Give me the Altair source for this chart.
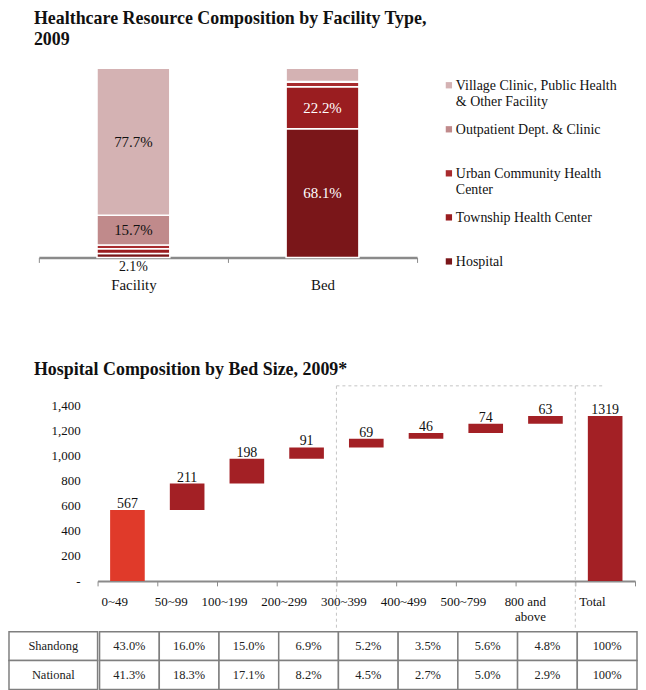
import altair as alt
import pandas as pd

FONT = "Liberation Serif"
TXT = "#111111"
GRID = "#8a8a8a"

# ---------------- top chart data ----------------
resource_cats = ["Facility", "Bed"]
facility_types = [
    "Hospital",
    "Township Health Center",
    "Urban Community Health Center",
    "Outpatient Dept. & Clinic",
    "Village Clinic, Public Health & Other Facility",
]
legend_texts = [
    "Hospital",
    "Township Health Center",
    "Urban Community Health\nCenter",
    "Outpatient Dept. & Clinic",
    "Village Clinic, Public Health\n& Other Facility",
]
facility_share = [2.1, 2.5, 2.0, 15.7, 77.7]
bed_share = [68.1, 22.2, 2.4, 0.3, 7.0]
type_colors = ["#7A1619", "#9A1D20", "#A82B2E", "#C08A8B", "#D4B2B3"]

# ---------------- bottom chart data ----------------
bed_sizes = ["0~49", "50~99", "100~199", "200~299", "300~399",
             "400~499", "500~799", "800 and above", "Total"]
hospital_counts = [567, 211, 198, 91, 69, 46, 74, 63]
total_count = 1319
y_ticks = [0, 200, 400, 600, 800, 1000, 1200, 1400]
table_rows = ["Shandong", "National"]
shandong_pct = [43.0, 16.0, 15.0, 6.9, 5.2, 3.5, 5.6, 4.8, 100]
national_pct = [41.3, 18.3, 17.1, 8.2, 4.5, 2.7, 5.0, 2.9, 100]

# ---------------- top chart ----------------
rows = []
for res, shares in (("Facility", facility_share), ("Bed", bed_share)):
    for i, (t, s) in enumerate(zip(facility_types, shares)):
        rows.append({"resource": res, "type": t, "share": s, "order": i})
top_df = pd.DataFrame(rows)

color_scale = alt.Scale(domain=facility_types, range=type_colors)
x_top = alt.X("resource:N",
              scale=alt.Scale(domain=resource_cats, range=[30, 410], paddingInner=0, paddingOuter=0),
              axis=alt.Axis(title=None, labelAngle=0, labelFont=FONT, labelFontSize=15,
                            labelColor=TXT, domainColor=GRID, domainWidth=2.5,
                            tickBand="extent", tickColor=GRID, tickSize=5, labelPadding=15))

base_top = alt.Chart(top_df).transform_stack(
    stack="share", groupby=["resource"], sort=[alt.SortField("order")], as_=["y0", "y1"]
).transform_calculate(
    mid="(datum.y0 + datum.y1) / 2",
    lbl="format(datum.share, '.1f') + '%'",
)

bars = base_top.mark_bar(width=alt.RelativeBandSize(0.385), stroke="white", strokeWidth=1.5).encode(
    x=x_top,
    y=alt.Y("y0:Q", scale=alt.Scale(domain=[0, 100]), axis=None),
    y2="y1:Q",
    color=alt.Color("type:N", scale=color_scale, legend=None),
)
seg_labels = base_top.transform_filter("datum.share >= 10").mark_text(
    font=FONT, fontSize=15, baseline="middle"
).encode(
    x=x_top,
    y=alt.Y("mid:Q"),
    text="lbl:N",
    color=alt.condition("datum.order <= 1", alt.value("white"), alt.value(TXT)),
)
small_label = base_top.transform_filter(
    "datum.resource == 'Facility' && datum.order == 0"
).mark_text(font=FONT, fontSize=14, baseline="top", dy=3, color=TXT).encode(
    x=x_top, y=alt.Y("y0:Q"), text="lbl:N"
)
bar_chart = alt.layer(bars, seg_labels, small_label).properties(width=410, height=190)

legend_df = pd.DataFrame({"type": facility_types, "label": legend_texts})
ly = alt.Y("type:N", sort=list(reversed(facility_types)),
           scale=alt.Scale(type="point", range=[17, 194], padding=0), axis=None)
leg_sq = alt.Chart(legend_df).mark_square(size=40, opacity=1).encode(
    x=alt.value(2), y=ly, color=alt.Color("type:N", scale=color_scale, legend=None)
)
leg_txt = alt.Chart(legend_df).mark_text(
    align="left", baseline="alphabetic", dy=5, font=FONT, fontSize=14,
    lineBreak="\n", lineHeight=16, color=TXT
).encode(x=alt.value(9), y=ly, text="label:N")
legend_chart = alt.layer(leg_sq, leg_txt).properties(width=180, height=190)

top = alt.hconcat(bar_chart, legend_chart, spacing=27).properties(
    title=alt.TitleParams(
        ["Healthcare Resource Composition by Facility Type,", "2009"],
        anchor="start", font=FONT, fontSize=18, fontWeight="bold", color=TXT,
        dx=25, offset=19, lineHeight=21,
    )
)

# ---------------- bottom chart ----------------
wf = []
cum = 0
for i, (cat, v) in enumerate(zip(bed_sizes[:-1], hospital_counts)):
    wf.append({"size": cat, "start": cum, "end": cum + v, "label": str(v),
               "kind": "first" if i == 0 else "step"})
    cum += v
wf.append({"size": bed_sizes[-1], "start": 0, "end": total_count,
           "label": str(total_count), "kind": "total"})
wf_df = pd.DataFrame(wf)

x_scale_b = alt.Scale(domain=bed_sizes, range=[89, 629], paddingInner=0, paddingOuter=0)
y_scale_b = alt.Scale(domain=[0, 1560], nice=False)
x_b = alt.X("size:N", scale=x_scale_b,
            axis=alt.Axis(title=None, labelAngle=0, labelFont=FONT, labelFontSize=13,
                          labelColor=TXT, labelOverlap=False,
                          labelExpr="datum.label == '800 and above' ? ['800 and', 'above'] : datum.label",
                          labelLineHeight=15, domainColor=GRID, domainWidth=2,
                          tickBand="extent", tickColor=GRID, tickSize=5, labelPadding=16))

wbars = alt.Chart(wf_df).mark_bar(width=alt.RelativeBandSize(0.58)).encode(
    x=x_b, y=alt.Y("start:Q", scale=y_scale_b, axis=None), y2="end:Q",
    color=alt.Color("kind:N", scale=alt.Scale(domain=["first", "step", "total"],
                                              range=["#E03A2A", "#A32025", "#A32025"]),
                    legend=None),
)
wtext = alt.Chart(wf_df).mark_text(font=FONT, fontSize=14, baseline="alphabetic", dy=-2,
                                   color=TXT).encode(
    x=x_b, y=alt.Y("end:Q", scale=y_scale_b, axis=None), text="label:N"
)

# y tick labels (left of the bars)
ytick_df = pd.DataFrame({"tick": y_ticks,
                         "txt": ["-" if v == 0 else f"{v:,}" for v in y_ticks]})
ylabels = alt.Chart(ytick_df).mark_text(font=FONT, fontSize=13, color=TXT, align="right",
                                        baseline="middle").encode(
    x=alt.value(72), y=alt.Y("tick:Q", scale=y_scale_b, axis=None), text="txt:N"
)

box_df = pd.DataFrame({"edge": [bed_sizes[4], bed_sizes[8]]})
box_top_df = pd.DataFrame({"a": [bed_sizes[4]], "b": [bed_sizes[8]]})
vrules = alt.Chart(box_df).mark_rule(strokeDash=[3, 3], color="#c4c4c4", strokeWidth=1).encode(
    x=alt.X("edge:N", scale=x_scale_b, bandPosition=0),
    y=alt.value(0), y2=alt.value(246),
)
hrule = alt.Chart(box_top_df).mark_rule(strokeDash=[3, 3], color="#c4c4c4", strokeWidth=1).encode(
    x=alt.X("a:N", scale=x_scale_b, bandPosition=0),
    x2="b:N",
    y=alt.value(0),
)
waterfall = alt.layer(vrules, hrule, wbars, wtext, ylabels).properties(
    width=629, height=196,
    title=alt.TitleParams("Hospital Composition by Bed Size, 2009*", anchor="start",
                          font=FONT, fontSize=18, fontWeight="bold", color=TXT,
                          dx=25, offset=6),
)

# ---------------- table ----------------
def fmt(v):
    return "100%" if v == 100 else f"{v:.1f}%"

trows = []
for region, vals in (("Shandong", shandong_pct), ("National", national_pct)):
    for cat, v in zip(bed_sizes, vals):
        trows.append({"region": region, "size": cat, "txt": fmt(v)})
t_df = pd.DataFrame(trows)

x_t = alt.X("size:N", axis=None, scale=alt.Scale(domain=bed_sizes, paddingInner=0, paddingOuter=0))
y_t = alt.Y("region:N", axis=None,
            scale=alt.Scale(domain=table_rows, paddingInner=0, paddingOuter=0))
cells = alt.Chart(t_df).mark_rect(fill="white", stroke="#7f7f7f", strokeWidth=1.5).encode(x=x_t, y=y_t)
cell_txt = alt.Chart(t_df).mark_text(font=FONT, fontSize=12.5, color="#222222").encode(
    x=x_t, y=y_t, text="txt:N")
values_table = alt.layer(cells, cell_txt).properties(width=540, height=58)

lab_df = pd.DataFrame({"region": table_rows})
lab_cells = alt.Chart(lab_df).mark_rect(fill="white", stroke="#7f7f7f", strokeWidth=1.5).encode(y=y_t)
lab_txt = alt.Chart(lab_df).mark_text(font=FONT, fontSize=12.5, color="#222222").encode(
    y=y_t, text="region:N")
label_table = alt.layer(lab_cells, lab_txt).properties(width=89, height=58)

table = alt.hconcat(label_table, values_table, spacing=0)

bottom = alt.vconcat(waterfall, table, spacing=-3)

chart = alt.vconcat(top, bottom, spacing=69).properties(
    padding={"left": 0, "top": 0, "right": 0, "bottom": 0},
    background="white",
).resolve_scale(color="independent").configure_view(stroke=None)

chart.save("out.html", embed_options={"renderer": "svg", "actions": False})
